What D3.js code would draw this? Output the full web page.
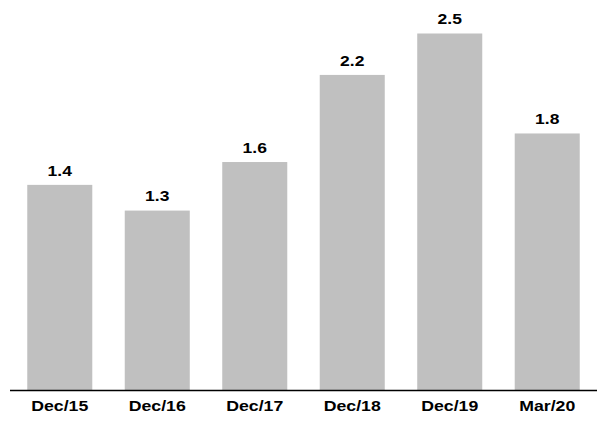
<!DOCTYPE html>
<html><head><meta charset="utf-8">
<script src="https://cdn.jsdelivr.net/npm/d3@7"></script>
<style>body{margin:0;background:#fff}</style>
</head><body>
<svg id="c" width="598" height="428"></svg>
<script>
const categories = ["Dec/15","Dec/16","Dec/17","Dec/18","Dec/19","Mar/20"];
const values = [1.44, 1.26, 1.60, 2.21, 2.50, 1.80];

const svg = d3.select("#c");
const x = d3.scaleBand().domain(categories).range([10, 597]).paddingInner(0.333).paddingOuter(0.177);
const y = d3.scaleLinear().domain([0, 2.5]).range([390.5, 33.5]);
const FONT = "Liberation Sans, Arial, sans-serif";

svg.selectAll("rect.bar").data(values).join("rect")
  .attr("class","bar")
  .attr("x",(d,i)=>x(categories[i]))
  .attr("width",x.bandwidth())
  .attr("y",d=>y(d))
  .attr("height",d=>y(0)-y(d))
  .attr("fill","#c0c0c0");

svg.selectAll("text.val").data(values).join("text")
  .attr("class","val")
  .attr("transform",(d,i)=>`translate(${x(categories[i])+x.bandwidth()/2},${y(d)-9.3}) scale(1.25,1)`)
  .attr("text-anchor","middle")
  .attr("font-family",FONT)
  .attr("font-weight","bold")
  .attr("font-size","14px")
  .attr("fill","#000")
  .text(d=>d.toFixed(1));

const ax = svg.append("g").attr("transform",`translate(0,${y(0)})`)
  .call(d3.axisBottom(x).tickSize(0).tickPadding(10.3));
ax.select(".domain").attr("stroke","#000").attr("stroke-width",1.5).attr("d","M10,0H597");
ax.selectAll("text")
  .attr("font-family",FONT)
  .attr("font-weight","bold")
  .attr("font-size","15px")
  .attr("fill","#000")
  .attr("transform","scale(1.18,1)");
</script>
</body></html>
